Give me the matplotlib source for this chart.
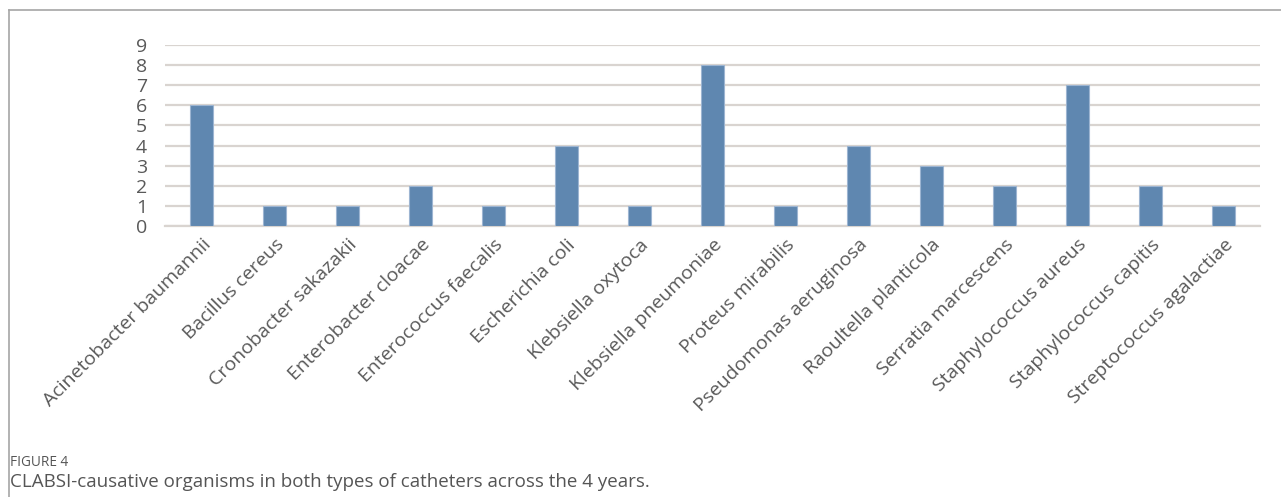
import matplotlib
matplotlib.use("Agg")
import matplotlib.pyplot as plt
from matplotlib.lines import Line2D

organisms = ["Acinetobacter baumannii", "Bacillus cereus", "Cronobacter sakazakii",
             "Enterobacter cloacae", "Enterococcus faecalis", "Escherichia coli",
             "Klebsiella oxytoca", "Klebsiella pneumoniae", "Proteus mirabilis",
             "Pseudomonas aeruginosa", "Raoultella planticola", "Serratia marcescens",
             "Staphylococcus aureus", "Staphylococcus capitis", "Streptococcus agalactiae"]
counts = [6, 1, 1, 2, 1, 4, 1, 8, 1, 4, 3, 2, 7, 2, 1]
yticks = list(range(0, 10))

plt.rcParams['font.family'] = ['Open Sans', 'DejaVu Sans']

fig = plt.figure(figsize=(12.81, 4.97), dpi=100)
ax = fig.add_axes([165/1281, 1-226/497, (1260-165)/1281, (226-45)/497])

x = list(range(len(organisms)))
ax.bar(x, counts, width=0.32, color='#5f87b0', edgecolor='#9db5d2', linewidth=0.8, zorder=3)
ax.set_xlim(-0.5, len(organisms)-0.5)
ax.set_ylim(0, 9)
ax.set_yticks(yticks)
ax.set_yticklabels([str(t) for t in yticks], fontsize=14, color='#595959')
ax.grid(axis='y', color='#d9d4d0', linewidth=1.6, zorder=0)
ax.set_axisbelow(True)
for s in ['top', 'right', 'left']:
    ax.spines[s].set_visible(False)
ax.spines['bottom'].set_color('#d9d4d0')
ax.spines['bottom'].set_linewidth(1.6)
ax.tick_params(axis='both', length=0)
ax.tick_params(axis='y', pad=13)
ax.set_xticks(x)
ax.set_xticklabels(organisms, rotation=45, ha='right', rotation_mode='anchor',
                   fontsize=14, color='#595959')
ax.tick_params(axis='x', pad=7)

# frame lines (top and left)
fig.add_artist(Line2D([9/1281, 1.0], [1-10/497, 1-10/497], transform=fig.transFigure,
                      color='#a6a6a6', linewidth=1.2))
fig.add_artist(Line2D([9/1281, 9/1281], [0, 1-10/497], transform=fig.transFigure,
                      color='#a6a6a6', linewidth=1.2))

fig.text(10/1281, 1-462/497, "FIGURE 4", fontsize=9.8, color='#555555', va='center')
fig.text(10/1281, 1-482/497, "CLABSI-causative organisms in both types of catheters across the 4 years.",
         fontsize=13.5, color='#555555', va='center')

fig.savefig("out.png", dpi=100)
